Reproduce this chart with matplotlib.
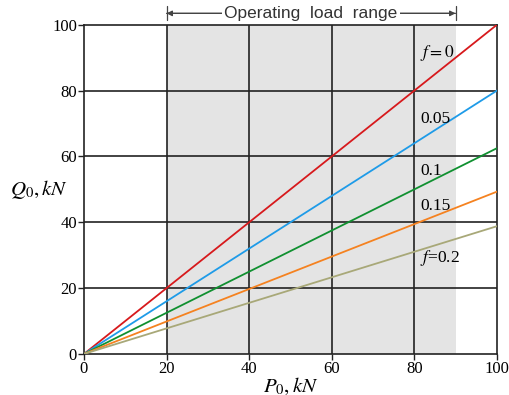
import matplotlib
matplotlib.use("Agg")
import matplotlib.pyplot as plt
import numpy as np

# data
friction = ["0", "0.05", "0.1", "0.15", "0.2"]
q_at_100 = [100, 80, 62.5, 49.3, 38.8]
colors = ["#d7191c", "#1e9be8", "#109030", "#f58220", "#a8a878"]
label_texts = [r"$f = 0$", "0.05", "0.1", "0.15", r"$f$=0.2"]
label_pos = [(81.5, 91.5), (81.5, 71.5), (81.5, 55.5), (81.5, 45), (81.5, 29)]
range_start, range_end = 20, 90
xticks = [0, 20, 40, 60, 80, 100]
yticks = [0, 20, 40, 60, 80, 100]

plt.rcParams['font.family'] = ['Liberation Serif', 'DejaVu Serif']
plt.rcParams['mathtext.fontset'] = 'stix'

fig = plt.figure(figsize=(5.09, 3.95), dpi=100)
ax = fig.add_axes([0.165, 0.104, 0.811, 0.833])

ax.axvspan(range_start, range_end, color="#e4e4e4", zorder=0, lw=0)
for v in [20, 40, 60, 80]:
    ax.axvline(v, color="#222222", lw=1.2, zorder=1)
    ax.axhline(v, color="#222222", lw=1.2, zorder=1)

x = np.array([0, 100])
for q, c in zip(q_at_100, colors):
    ax.plot(x, x * q / 100.0, color=c, lw=1.3, zorder=3)

for t, (px, py) in zip(label_texts, label_pos):
    ax.text(px, py, t, fontsize=12.5, ha="left", va="center", zorder=4)

ax.set_xlim(0, 100)
ax.set_ylim(0, 100)
ax.set_xticks(xticks)
ax.set_yticks(yticks)
ax.tick_params(labelsize=12, length=4, width=1, direction="out", color="#222222", pad=1)
for s in ax.spines.values():
    s.set_color("#222222")
    s.set_linewidth(1.2)

ax.set_xlabel(r"$P_0,kN$", fontsize=15, labelpad=-1)
ax.set_ylabel(r"$Q_0,kN$", fontsize=15, rotation=0, va="center", ha="center")
ax.yaxis.set_label_coords(-0.11, 0.5)

# operating load range annotation
ytop = 1.035
ax.annotate("", xy=(range_start, ytop), xytext=(range_end, ytop),
            xycoords=("data", "axes fraction"),
            arrowprops=dict(arrowstyle="|-|", color="#444444", lw=0.9,
                            mutation_scale=5, shrinkA=0, shrinkB=0))
ax.annotate("", xy=(range_start, ytop), xytext=(50, ytop),
            xycoords=("data", "axes fraction"), textcoords=("data", "axes fraction"),
            arrowprops=dict(arrowstyle="-|>", color="#444444", lw=0.9,
                            mutation_scale=8, shrinkA=0, shrinkB=0))
ax.annotate("", xy=(range_end, ytop), xytext=(60, ytop),
            xycoords=("data", "axes fraction"), textcoords=("data", "axes fraction"),
            arrowprops=dict(arrowstyle="-|>", color="#444444", lw=0.9,
                            mutation_scale=8, shrinkA=0, shrinkB=0))
ax.text((range_start + range_end) / 2, ytop, "Operating  load  range",
        transform=ax.get_xaxis_transform(), ha="center", va="center",
        fontsize=12.5, family=["Liberation Sans", "DejaVu Sans"], color="#333333",
        bbox=dict(facecolor="white", edgecolor="none", pad=1.5), zorder=5)

fig.savefig("out.png", dpi=100)
